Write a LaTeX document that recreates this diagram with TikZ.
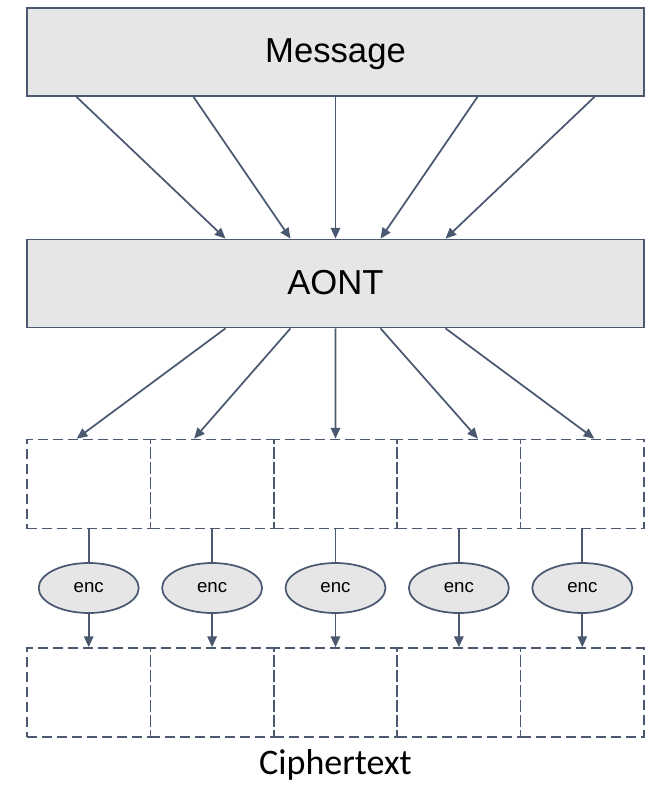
\documentclass[tikz,border=0pt]{standalone}
\usepackage{fontspec}
\setmainfont{Liberation Sans}
\newfontfamily\capfont{Carlito}
\usetikzlibrary{arrows.meta, calc, shapes.geometric}
\definecolor{edgeblue}{HTML}{4A5870}
\definecolor{boxgray}{HTML}{E6E6E6}

\begin{document}
\begin{tikzpicture}[x=0.75pt, y=-0.75pt,
    bigbox/.style={draw=edgeblue, line width=1.3pt, fill=boxgray, inner sep=0pt,
      minimum width=462.75pt, minimum height=66pt, text height=18.6pt, text depth=2.5pt,
      font=\fontsize{26}{30}\selectfont},
    cell/.style={draw=edgeblue, line width=1.3pt, dash pattern=on 7.5pt off 3.75pt,
      inner sep=0pt, minimum width=92.55pt, minimum height=66.75pt},
    encnode/.style={ellipse, draw=edgeblue, line width=1.3pt, fill=boxgray, inner sep=0pt,
      minimum width=75pt, minimum height=37.5pt, text height=7.3pt, text depth=0pt,
      font=\fontsize{14}{16}\selectfont},
    arr/.style={draw=edgeblue, line width=1.3pt, -{Triangle[length=8pt, width=7pt]}},
    link/.style={draw=edgeblue, line width=1.3pt}]
      \useasboundingbox (0,0) rectangle (656,788);

      \node[bigbox] (msg) at (335.5, 52) {Message};
      \node[bigbox] (aont) at (335.5, 283.5) {AONT};

      \foreach \i in {1,...,5} {
        \node[cell] (t\i) at ({27+123.4*(\i-0.5)}, 484) {};
        \node[encnode] (e\i) at ({27+123.4*(\i-0.5)}, 588) {enc};
        \node[cell] (b\i) at ({27+123.4*(\i-0.5)}, 692.5) {};
      }
      \node[font=\capfont\fontsize{27}{30}\selectfont] (ctext) at (335.5, 765) {Ciphertext};

      % message -> aont -> blocks
      \foreach \s/\e in {-259/-110, -142/-45, 0/0, 142/45, 259/110}
        \draw[arr] ($(msg.south)+(\s,0)$) -- ($(aont.north)+(\e,0)$);
      \foreach \s/\c/\o in {-110/1/-12, -45/2/-18, 0/3/0, 45/4/19, 110/5/12}
        \draw[arr] ($(aont.south)+(\s,0)$) -- ($(t\c.north)+(\o,0)$);

      % encryption of each block
      \foreach \i in {1,...,5} {
        \draw[link] (t\i.south) -- (e\i.north);
        \draw[arr] (e\i.south) -- (b\i.north);
      }
    \end{tikzpicture}
\end{document}
